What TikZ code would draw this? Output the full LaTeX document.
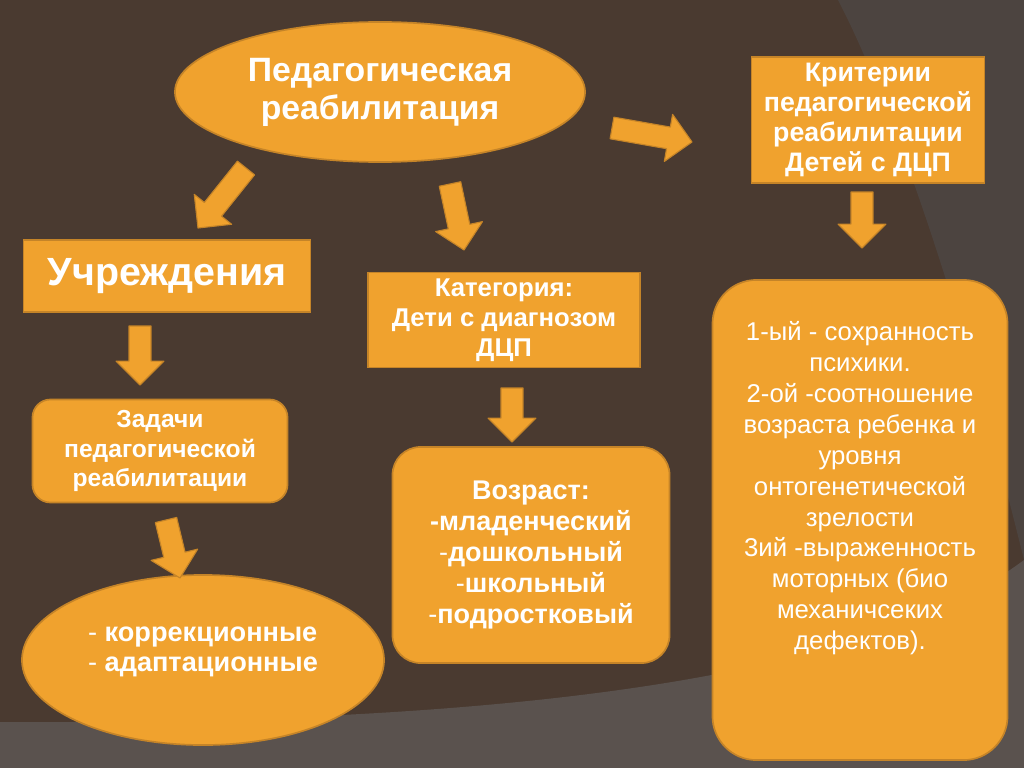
\documentclass[tikz,border=0pt]{standalone}
\usepackage{fontspec}
\setmainfont{Liberation Sans}
\usetikzlibrary{shapes.geometric,calc}
\definecolor{bgbrown}{HTML}{4A3A30}
\definecolor{bgmid}{HTML}{4C4440}
\definecolor{bggrey}{HTML}{5A524E}
\definecolor{boxfill}{HTML}{F0A22E}
\definecolor{boxedge}{HTML}{C58428}
\tikzset{
  box/.style={draw=boxedge, line width=1.2pt, fill=boxfill, text=white, align=center, inner sep=0pt},
  oval/.style={box, ellipse},
  roundbox/.style={box, rounded corners=#1},
  roundbox/.default=0.45cm,
  arrowline/.style={draw=boxedge, fill=boxfill, line width=0.8pt, line join=round}
}
% block arrow from #1 to #2
\newcommand{\fatarrow}[2]{%
  \coordinate (h) at ($(#2)!17pt!(#1)$);
  \draw[arrowline] ($(#1)!7.8pt!90:(#2)$) -- ($(h)!7.8pt!90:(#2)$) -- ($(h)!17pt!90:(#2)$)
    -- (#2) -- ($(h)!17pt!-90:(#2)$) -- ($(h)!7.8pt!-90:(#2)$) -- ($(#1)!7.8pt!-90:(#2)$) -- cycle;}
\begin{document}
\begin{tikzpicture}[x=0.025cm, y=-0.025cm]
\useasboundingbox (0,0) rectangle (1024,768);
%background
\fill[bgbrown] (0,0) rectangle (1024,768);
\fill[bgmid] (838,0) .. controls (890,100) and (960,300) .. (1024,560) -- (1024,0) -- cycle;
\fill[bggrey] (0,722) .. controls (450,724) and (850,690) .. (1024,560) -- (1024,768) -- (0,768) -- cycle;

%boxes
\node[oval, minimum width=10.25cm, minimum height=3.5cm,
  font=\bfseries\fontsize{24}{27}\selectfont] (ped) at (380,92) {Педагогическая\\реабилитация};
\node[box, minimum width=7.175cm, minimum height=1.8cm,
  font=\bfseries\fontsize{28}{28}\selectfont] (inst) at (167,276) {Учреждения};
\node[box, minimum width=6.8cm, minimum height=2.375cm,
  font=\bfseries\fontsize{18.3}{21.3}\selectfont] (cat) at (504,320) {Категория:\\Дети с диагнозом\\ДЦП};
\node[box, minimum width=5.825cm, minimum height=3.15cm,
  font=\bfseries\fontsize{19}{21.2}\selectfont] (crit) at (868,120) {Критерии\\педагогической\\реабилитации\\Детей с ДЦП};
\node[roundbox, minimum width=6.375cm, minimum height=2.575cm,
  font=\bfseries\fontsize{17.5}{21.3}\selectfont] (task) at (160,451) {Задачи\\педагогической\\реабилитации};
\node[roundbox=0.7cm, minimum width=6.925cm, minimum height=5.4cm,
  font=\bfseries\fontsize{19.2}{22}\selectfont] (age) at (531,555)
  {Возраст:\\-младенческий\\{\mdseries-}дошкольный\\{\mdseries-}школьный\\{\mdseries-}подростковый};
\node[oval, align=left, minimum width=9.05cm, minimum height=4.25cm, text depth=15pt,
  font=\fontsize{19.3}{21.3}\selectfont] (kinds) at (203,660)
  {- \textbf{коррекционные}\\- \textbf{адаптационные}};
\node[roundbox=1.1cm, minimum width=7.375cm, minimum height=12cm, text depth=49pt,
  font=\fontsize{18.3}{22}\selectfont] (levels) at (860,520)
  {1-ый - сохранность\\психики.\\2-ой -соотношение\\возраста ребенка и\\уровня\\онтогенетической\\зрелости\\3ий -выраженность\\моторных (био\\механичсеких\\дефектов).};

%arrows
\coordinate (a1) at (246,168); \coordinate (a2) at (198,228);
\coordinate (b1) at (450,184); \coordinate (b2) at (464,250);
\coordinate (c1) at (612,128); \coordinate (c2) at (692,142);
\coordinate (d1) at (862,192); \coordinate (d2) at (862,248);
\coordinate (e1) at (140,326); \coordinate (e2) at (140,385);
\coordinate (f1) at (512,388); \coordinate (f2) at (512,442);
\coordinate (g1) at (166,520); \coordinate (g2) at (180,578);
\fatarrow{a1}{a2}
\fatarrow{b1}{b2}
\fatarrow{c1}{c2}
\fatarrow{d1}{d2}
\fatarrow{e1}{e2}
\fatarrow{f1}{f2}
\fatarrow{g1}{g2}
\end{tikzpicture}
\end{document}
